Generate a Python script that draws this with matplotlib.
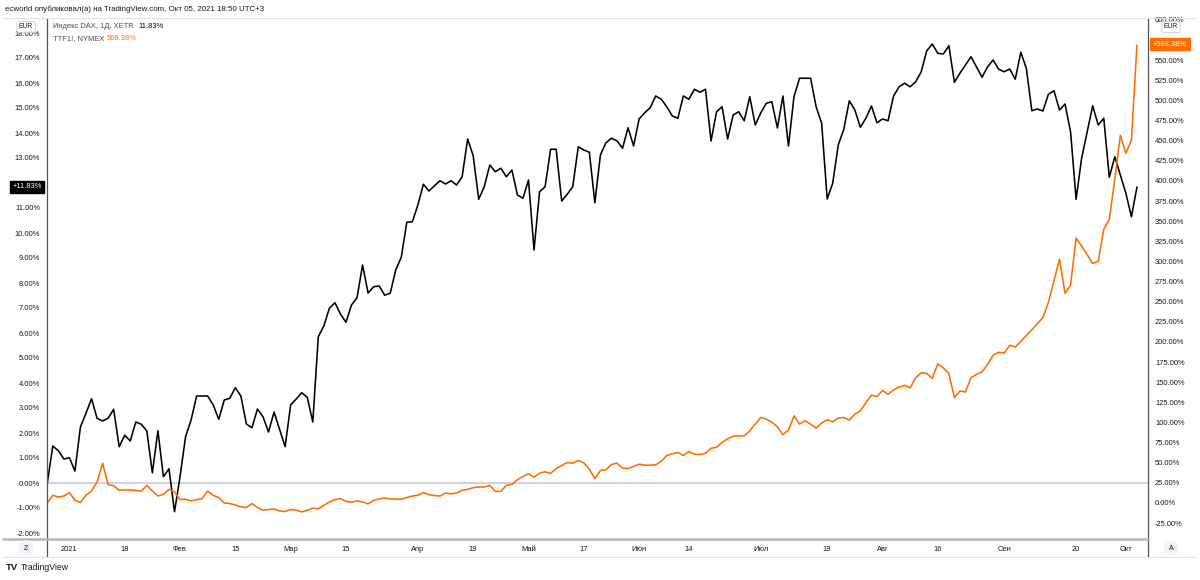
import matplotlib
matplotlib.use("Agg")
import matplotlib.pyplot as plt
from matplotlib.lines import Line2D
import numpy as np

plt.rcParams['font.family'] = ['Liberation Sans', 'DejaVu Sans']

# Индекс DAX, % изменения от первого бара (23.12.2020 .. 05.10.2021)
dax = [0.00, 1.48, 1.29, 0.96, 1.01, 0.48, 2.25, 2.79, 3.37, 2.59,
       2.48, 2.59, 2.95, 1.45, 1.91, 1.68, 2.44, 2.35, 2.08, 0.41,
       2.09, 0.25, 0.57, -1.15, 0.25, 1.85, 2.52, 3.48, 3.48, 3.48,
       3.12, 2.55, 3.32, 3.39, 3.81, 3.48, 2.36, 2.21, 2.96, 2.65,
       2.04, 2.84, 2.15, 1.45, 3.12, 3.36, 3.61, 3.43, 2.44, 5.85,
       6.28, 6.99, 7.21, 6.76, 6.43, 7.12, 7.41, 8.72, 7.60, 7.85,
       7.88, 7.51, 7.59, 8.52, 9.03, 10.43, 10.45, 11.12, 11.95, 11.68,
       11.89, 12.09, 11.96, 12.09, 11.92, 12.25, 13.76, 13.09, 11.35, 11.85,
       12.72, 12.45, 12.59, 12.25, 12.52, 11.52, 11.39, 12.12, 9.32, 11.65,
       11.85, 13.35, 13.35, 11.28, 11.55, 11.85, 13.45, 13.32, 13.23, 11.21,
       13.12, 13.61, 13.79, 13.69, 13.39, 14.21, 13.48, 14.56, 14.81, 15.01,
       15.48, 15.35, 15.05, 14.68, 14.59, 15.48, 15.35, 15.75, 15.63, 15.75,
       13.68, 14.85, 15.05, 13.76, 14.72, 14.85, 14.49, 15.45, 14.32, 14.81,
       15.19, 15.25, 14.20, 15.48, 13.48, 15.45, 16.19, 16.19, 16.19, 15.05,
       14.39, 11.36, 11.99, 13.52, 14.15, 15.29, 14.92, 14.23, 14.59, 15.08,
       14.41, 14.56, 14.49, 15.48, 15.85, 15.99, 15.85, 16.05, 16.45, 17.29,
       17.56, 17.19, 17.16, 17.49, 16.03, 16.39, 16.72, 17.05, 16.64, 16.23,
       16.65, 16.92, 16.55, 16.45, 16.56, 16.15, 17.23, 16.59, 14.89, 14.96,
       14.88, 15.55, 15.69, 14.92, 15.16, 14.05, 11.35, 12.99, 14.05, 15.09,
       14.32, 14.59, 12.23, 13.05, 12.32, 11.59, 10.65, 11.83]

# TTF1!, NYMEX, % изменения
ttf = [0, 9.5, 7.4, 8.6, 12.8, 3.3, 0.5, 9.5, 14.8, 25.9,
       49.4, 22.7, 21.4, 15.7, 16.1, 16.1, 15.7, 14.8, 21.8, 14.8,
       8.6, 10.7, 16.9, 13.6, 4.2, 4.6, 2.5, 4.2, 5.4, 14.8,
       9.5, 6.7, 0.0, -0.8, -2.5, -4.9, -5.7, -0.8, -5.7, -9.0,
       -8.2, -7.4, -9.9, -10.7, -8.2, -9.0, -11.1, -9.0, -6.5, -7.4,
       -2.8, 1.2, 4.2, 5.4, 2.1, 0.9, 2.5, 1.2, -1.2, 3.3,
       4.9, 6.2, 4.9, 4.9, 4.5, 6.7, 8.6, 9.5, 12.8, 10.3,
       9.1, 8.6, 12.3, 11.5, 12.3, 15.7, 16.9, 19.0, 19.8, 19.8,
       21.8, 14.4, 14.4, 21.8, 23.1, 28.8, 32.9, 36.2, 32.1, 37.0,
       38.7, 36.6, 42.8, 46.5, 50.2, 49.4, 52.7, 49.8, 42.0, 30.1,
       40.3, 41.2, 47.8, 49.4, 43.2, 42.8, 45.3, 48.1, 46.9, 46.9,
       47.4, 51.8, 58.9, 61.0, 62.9, 58.9, 63.8, 60.5, 60.1, 61.7,
       67.9, 69.1, 75.3, 79.8, 82.7, 83.5, 83.2, 89.7, 98.0, 106.1,
       104.1, 100.2, 94.6, 84.8, 90.5, 108.2, 97.9, 102.0, 97.9, 93.0,
       99.2, 103.3, 100.8, 105.3, 106.1, 102.9, 110.3, 114.4, 124.6, 134.1,
       132.0, 139.9, 135.0, 140.3, 144.0, 146.1, 143.1, 155.5, 161.7, 160.9,
       154.7, 172.8, 167.8, 160.7, 130.8, 139.1, 137.8, 155.5, 159.7, 162.9,
       172.0, 183.5, 187.2, 186.3, 195.8, 193.7, 200.8, 207.8, 215.2, 222.6,
       230.4, 249.3, 276.0, 302.8, 260.4, 270.7, 329.1, 319.2, 308.5, 297.4,
       300.3, 339.8, 352.2, 402.3, 456.6, 434.4, 450.9, 568.38]

# подписи оси времени (номер бара -> подпись)
tick_pos = [4, 14, 24, 34, 44, 54, 67, 77, 87, 97, 107, 116, 129, 141, 151, 161, 173, 186, 195]
tick_labels = ['2021', '18', 'Фев', '15', 'Мар', '15', 'Апр', '19', 'Май', '17',
               'Июн', '14', 'Июл', '19', 'Авг', '16', 'Сен', '20', 'Окт']

W, H = 1200, 580
ORANGE = '#ff6d00'
TXT = '#131722'
AXC = '#50535e'
FS = 5.4


def px(x, y):
    return x / W, 1 - y / H


fig = plt.figure(figsize=(W / 100, H / 100), dpi=100)
L, R, T, B = 47, 1148, 20, 539
ax = fig.add_axes([L / W, 1 - B / H, (R - L) / W, (B - T) / H])
ax2 = ax.twinx()

x = np.arange(len(dax))
ax.axhline(0, color='#d1d4dc', lw=1.5, zorder=1)
ax.plot(x, dax, color='black', lw=1.15, zorder=3)
ax2.plot(x, ttf, color=ORANGE, lw=1.15, zorder=3)

ax.set_xlim(-0.05, 199)
ax.set_ylim((483 - B) / 25, (483 - T) / 25)
ax2.set_ylim((502.7 - B) / 0.8104, (502.7 - T) / 0.8104)

# деления, закрытые плашками последних значений, не подписываем
lv = [v for v in range(-2, 19) if v != 12]
ax.set_yticks(lv)
ax.set_yticklabels([f'{v:.2f}%' for v in lv])
rv = [v for v in range(-25, 601, 25) if v != 575]
ax2.set_yticks(rv)
ax2.set_yticklabels([f'{v:.2f}%' for v in rv])
ax.set_xticks(tick_pos)
ax.set_xticklabels(tick_labels)

for a in (ax, ax2):
    a.tick_params(length=0, labelsize=FS, colors=TXT)
    for s in a.spines.values():
        s.set_visible(False)
ax.tick_params(axis='y', pad=5)
ax2.tick_params(axis='y', pad=5)
ax.tick_params(axis='x', pad=5)
ax2.set_zorder(ax.get_zorder() + 1)
ax2.patch.set_visible(False)

# рамки шкал
fig.add_artist(Line2D([L / W, L / W], [1 - 18 / H, 1 - 557 / H], color=AXC, lw=0.9))
fig.add_artist(Line2D([R / W, R / W], [1 - 18 / H, 1 - 557 / H], color=AXC, lw=0.9))
fig.add_artist(Line2D([3 / W, R / W], [1 - B / H, 1 - B / H], color='#b2b5be', lw=1.8))
fig.add_artist(Line2D([3 / W, 1195 / W], [1 - 18 / H, 1 - 18 / H], color='#e0e3eb', lw=0.8))
fig.add_artist(Line2D([3 / W, 1195 / W], [1 - 557 / H, 1 - 557 / H], color='#e0e3eb', lw=0.8))

# шапка
fig.text(*px(5, 9), 'ecworld опубликовал(а) на TradingView.com, Окт 05, 2021 18:50 UTC+3',
         fontsize=5.7, color=TXT, va='center')

# легенда
t1 = fig.text(*px(53, 27), 'Индекс DAX, 1Д, XETR', fontsize=FS, color='#4a4d57', va='center')
fig.text(*px(53, 39), 'TTF1!, NYMEX', fontsize=FS, color='#4a4d57', va='center')
fig.text(*px(138, 27), '11.83%', fontsize=FS, color='black', va='center')
fig.text(*px(107, 39), '568.38%', fontsize=FS, color=ORANGE, va='center')

# метки валюты
for xx in (26, 1171):
    fig.text(*px(xx, 27), 'EUR', fontsize=4.9, color=TXT, ha='center', va='center', zorder=5,
             bbox=dict(boxstyle='round,pad=0.3', fc='white', ec='#c9ccd6', lw=0.6))

# последние значения
fig.text(*px(27, 187), '+11.83%', fontsize=FS, color='white', ha='center', va='center', zorder=5,
         bbox=dict(boxstyle='square,pad=0.35', fc='black', ec='black'))
fig.text(*px(1170, 44), '+568.38%', fontsize=FS, color='white', ha='center', va='center', zorder=5,
         bbox=dict(boxstyle='square,pad=0.35', fc=ORANGE, ec=ORANGE))

# кнопки шкал
for xx, t in ((26, 'Z'), (1171, 'A')):
    fig.text(*px(xx, 548), t, fontsize=5, color=TXT, ha='center', va='center',
             bbox=dict(boxstyle='circle,pad=0.5', fc='#f0f3fa', ec='#f0f3fa'))

# логотип
fig.text(*px(6, 568), 'TV', fontsize=6.8, fontweight='bold', color=TXT, va='center')
fig.text(*px(21, 568), 'TradingView', fontsize=6.2, color=TXT, va='center')

fig.savefig('out.png', dpi=100)
